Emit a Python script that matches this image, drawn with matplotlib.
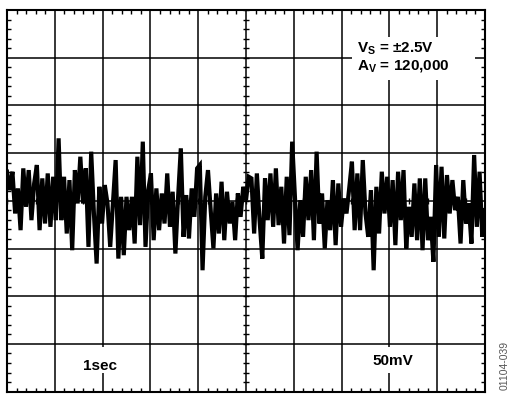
import numpy as np
import matplotlib
matplotlib.use("Agg")
import matplotlib.pyplot as plt
from matplotlib.ticker import MultipleLocator
from matplotlib.patches import Rectangle

plt.rcParams['font.family'] = ['Liberation Sans', 'DejaVu Sans']
plt.rcParams['mathtext.fontset'] = 'custom'
plt.rcParams['mathtext.rm'] = 'Liberation Sans:bold'
plt.rcParams['mathtext.bf'] = 'Liberation Sans:bold'

noise_mv = [
    30.5, 11.2, 30.5, -13.3, 13, -30.8, 34, -6.3, 32.2, -20.3, 18.2, 37.5, -30.8,
    23.5, -23.8, 28.7, -27.3, 25.2, -20.3, 65.5, -20.3, 25.2, -34.3, 21.7, -51.8,
    32.2, -2.8, 46.2, -2.8, 34, -48.3, 51.5, -13.3, -65.8, 14.7, -23.8, 16.5, -2.8,
    -48.3, -2.8, 42.7, -60.6, 4.2, -57, 4.2, -30.8, 4.2, -44.8,
    46.2, -25.5, 62, -48.3, 11.2, 28.7, -41.3, 13, -30.8, 7.7, -23.8, 28.7, -27.3,
    9.5, -55.3, 4.2, 55, -37.8, 6, -39.5, 13, -16.8, 34, 37.5, -72.8, 4.2, 32.2,
    -9.8, -50, 7.7, -34.3, 20, -41.3, 9.5, -23.8, -1, -41.3, 7.7, -16.8, 14.7, 0.7,
    25.2, 23.5,
    -34.3, 28.7, -20.3, -60.6, 23.5, -20.3, 28.7, -27.3, 34, -25.5, 14.7, -44.8,
    25.2, -36, 62, 4.2, -51.8, 0.7, -37.8, 25.2, -20.3, 32.2, -41.3, 51.5, -23.8,
    7.7, -50, 0.7, -30.8, 21.7, -46.5, 18.2, -27.3, 2.5, -13.3, 13, 41, -30.8, 28.7,
    -30.8, 42.7, -13.3,
    -37.8, 11.2, -72.8, 14.7, -34.3, 30.5, -13.3, 25.2, -27.3, 21.7, -46.5, 30.5,
    -20.3, 32.2, -50, -6.3, -37.8, 18.2, -41.3, 23.5, -51.8, 23.5, -41.3, -16.8,
    -64, 37.5, -37.8, 35.7, -39.5, 27, -13.3, 21.7, -9.8, 4.2, -44.8, 21.7, -23.8,
    -2.8, -44.8, 48, -27.3, 30.5, -37.8, -9.8,
]
time_s = np.linspace(0, 10, len(noise_mv))

x_divs = np.arange(0, 11, 1)          # 1 s / div
y_divs = np.arange(-200, 201, 50)     # 50 mV / div

fig = plt.figure(figsize=(5.09, 3.94), dpi=100)
ax = fig.add_axes([7 / 509, 2.4 / 394, 478 / 509, 381.6 / 394])
ax.set_xlim(0, 10)
ax.set_ylim(-200, 200)

ax.set_xticks(x_divs)
ax.set_yticks(y_divs)
ax.xaxis.set_minor_locator(MultipleLocator(0.2))
ax.yaxis.set_minor_locator(MultipleLocator(10))
ax.tick_params(which='major', length=0, labelbottom=False, labelleft=False)
ax.tick_params(which='minor', direction='in', length=2.6, width=1.0,
               top=True, right=True, color='black')
ax.grid(True, which='major', color='black', lw=1.1)
ax.set_axisbelow(True)
for s in ax.spines.values():
    s.set_linewidth(1.5)

# center cross ticks
mx = np.arange(0, 10.001, 0.2)
my = np.arange(-200, 200.001, 10)
ax.plot(mx, np.zeros_like(mx), ls='none', marker='|', ms=4.5, mew=1.0, color='black', zorder=2)
ax.plot(np.full_like(my, 5.0), my, ls='none', marker='_', ms=4.5, mew=1.0, color='black', zorder=2)

ax.plot(time_s, noise_mv, color='black', lw=3.0, solid_joinstyle='miter', zorder=3)

# white label boxes
ax.add_patch(Rectangle((0.722, 0.8166), 0.257, 0.1124, transform=ax.transAxes,
                       facecolor='white', edgecolor='none', zorder=4))
ax.add_patch(Rectangle((0.14, 0.048), 0.12, 0.07, transform=ax.transAxes,
                       facecolor='white', edgecolor='none', zorder=4))
ax.add_patch(Rectangle((0.745, 0.048), 0.115, 0.07, transform=ax.transAxes,
                       facecolor='white', edgecolor='none', zorder=4))

fig.text(357 / 509, 1 - 52.7 / 394, r"V$_\mathrm{S}$ = ±2.5V", fontsize=11,
         fontweight='bold', va='baseline', ha='left', zorder=5)
fig.text(357 / 509, 1 - 70 / 394, r"A$_\mathrm{V}$ = 120,000", fontsize=11,
         fontweight='bold', va='baseline', ha='left', zorder=5)
fig.text(100.5 / 509, 1 - 370 / 394, "1sec", fontsize=11,
         fontweight='bold', va='baseline', ha='center', zorder=5)
fig.text(392.5 / 509, 1 - 365 / 394, "50mV", fontsize=11,
         fontweight='bold', va='baseline', ha='center', zorder=5)
fig.text(505 / 509, 1 - 365 / 394, "01104-039", fontsize=7.5, color='#555555',
         rotation=90, va='center', ha='center')

fig.savefig("out.png", dpi=100)
